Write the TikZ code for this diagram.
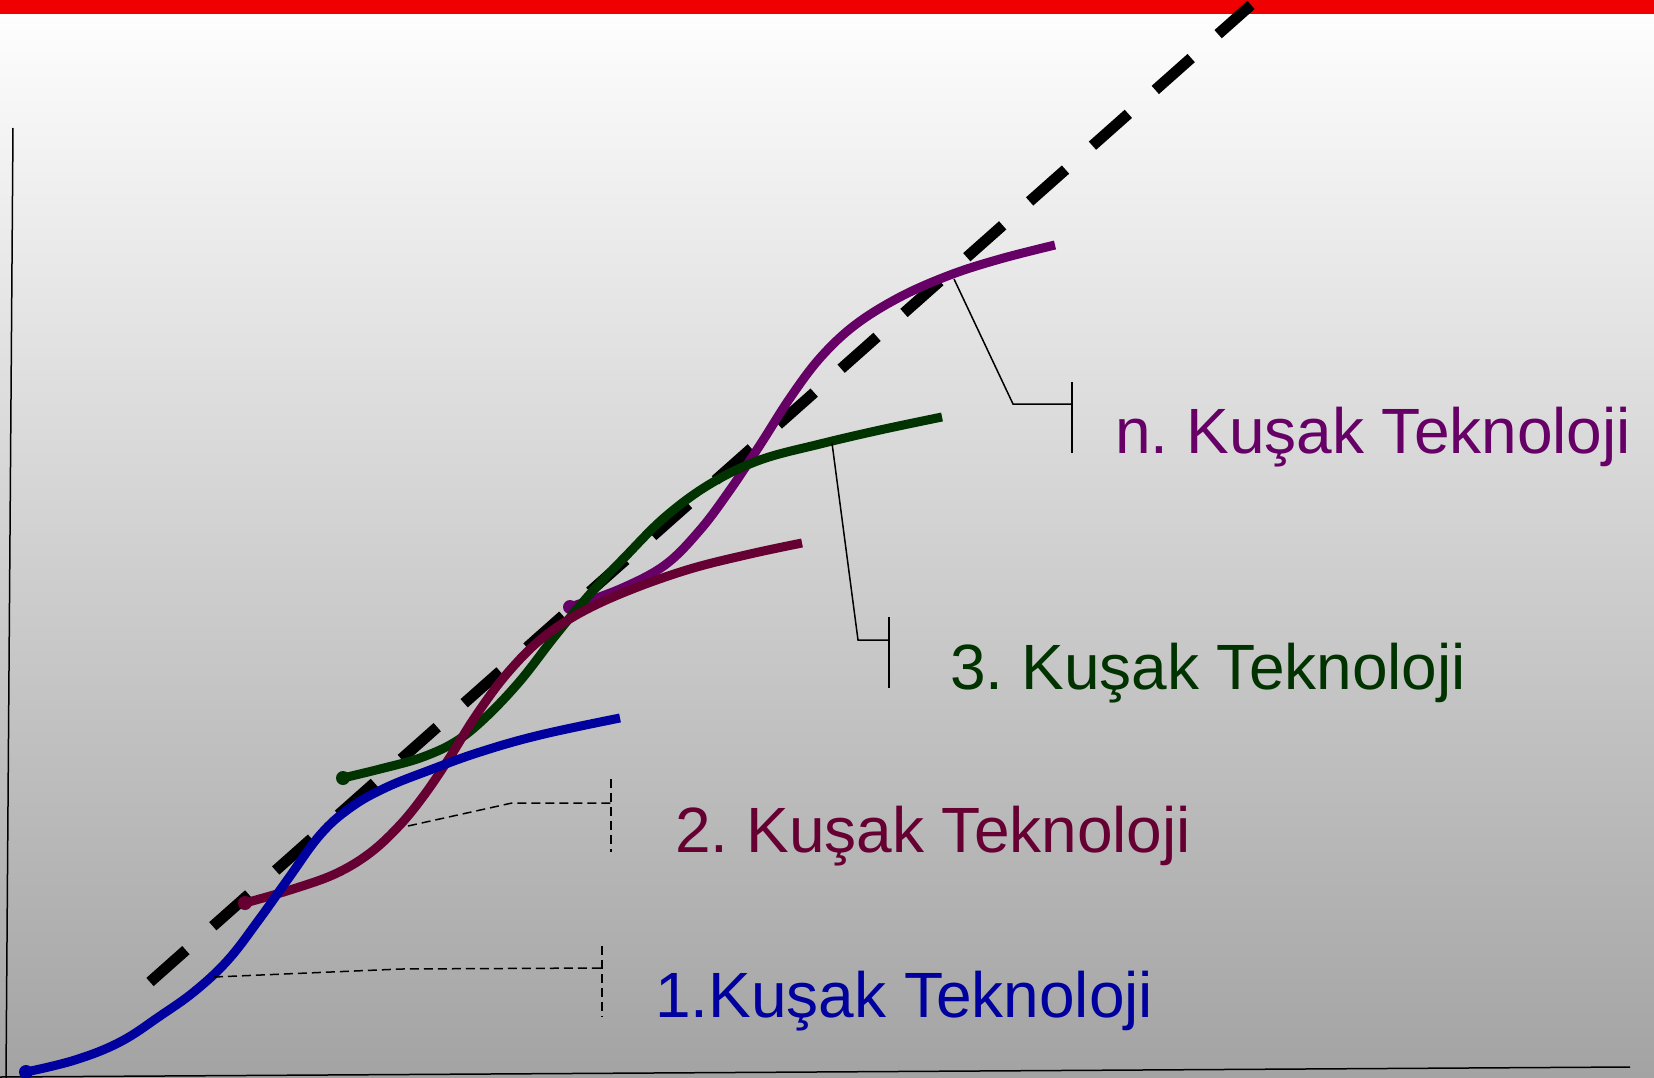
\documentclass[tikz,border=0pt]{standalone}
\usepackage{fontspec}
\setmainfont{Liberation Sans}
\frenchspacing
\definecolor{cblue}{RGB}{0,0,158}
\definecolor{cmaroon}{RGB}{102,0,51}
\definecolor{cgreen}{RGB}{0,51,0}
\definecolor{cpurple}{RGB}{102,0,102}
\definecolor{cred}{RGB}{240,0,0}
\definecolor{cbottom}{RGB}{163,163,163}
\begin{document}
\begin{tikzpicture}[x=1pt,y=-1pt,
  curve/.style={line width=9pt, line join=round},
  trend/.style={line width=11pt, dash pattern=on 48pt off 36pt, black},
  axis/.style={line width=1.5pt, black},
  leader/.style={line width=1.5pt, black},
  dleader/.style={line width=1.5pt, black, dash pattern=on 9pt off 5pt},
  tick/.style={line width=2.7pt, black},
  lbl/.style={inner sep=0pt, anchor=base west, font=\fontsize{64}{70}\selectfont}]
\useasboundingbox (0,0) rectangle (1654,1078);
\clip (0,0) rectangle (1654,1078);
% background
\shade[top color=white, bottom color=cbottom] (0,0) rectangle (1654,1078);
\fill[cred] (0,0) rectangle (1654,14);
% axes
\coordinate (ytop) at (13,128);
\coordinate (ybot) at (6,1078);
\coordinate (xl) at (0,1077);
\coordinate (xr) at (1630,1067);
\draw[axis] (ytop) -- (ybot);
\draw[axis] (xl) -- (xr);
% trend line
\coordinate (t0) at (150,982);
\coordinate (t1) at (1251,5);
\draw[trend] (t0) -- (t1);
% n. generation (purple)
\draw[curve, cpurple] plot[smooth, tension=0.6] coordinates {(570,607) (620,589) (665,565) (700,530) (730,490) (760,445) (790,398) (820,358) (855,325) (900,297) (950,275) (1000,259) (1055,245)};
\fill[cpurple] (570,607) circle (7);
% 3. generation (green)
\draw[curve, cgreen] plot[smooth, tension=0.6] coordinates {(343,778) (380,769) (420,758) (455,742) (485,718) (520,681) (555,636) (590,594) (625,557) (665,517) (710,484) (760,460) (820,444) (880,430) (942,417)};
\fill[cgreen] (343,778) circle (7);
% 2. generation (maroon)
\draw[curve, cmaroon] plot[smooth, tension=0.6] coordinates {(245,903) (290,890) (335,874) (370,853) (400,825) (425,794) (450,757) (475,717) (505,676) (540,640) (580,613) (630,590) (690,569) (750,554) (802,543)};
\fill[cmaroon] (245,903) circle (7);
% 1. generation (blue)
\draw[curve, cblue] plot[smooth, tension=0.65] coordinates {(26,1072) (75,1060) (120,1042) (160,1016) (195,991) (228,960) (258,921) (288,879) (320,835) (350,808) (385,788) (430,770) (480,752) (540,735) (620,718)};
\fill[cblue] (26,1072) circle (7);
% leaders
\coordinate (a1) at (214,977);
\coordinate (b1) at (401,969);
\coordinate (c1) at (602,968);
\coordinate (d1) at (602,946);
\coordinate (e1) at (602,1017);
\draw[dleader] (a1) -- (b1) -- (c1);
\draw[dleader] (d1) -- (e1);
\coordinate (a2) at (408,826);
\coordinate (b2) at (512,803);
\coordinate (c2) at (611,803);
\coordinate (d2) at (611,779);
\coordinate (e2) at (611,852);
\draw[dleader] (a2) -- (b2) -- (c2);
\draw[dleader] (d2) -- (e2);
\coordinate (a3) at (832,443);
\coordinate (b3) at (858,640);
\coordinate (c3) at (889,640);
\coordinate (d3) at (889,617);
\coordinate (e3) at (889,688);
\draw[leader] (a3) -- (b3) -- (c3);
\draw[tick] (d3) -- (e3);
\coordinate (a4) at (954,279);
\coordinate (b4) at (1013,404);
\coordinate (c4) at (1072,404);
\coordinate (d4) at (1072,382);
\coordinate (e4) at (1072,453);
\draw[leader] (a4) -- (b4) -- (c4);
\draw[tick] (d4) -- (e4);
% labels
\node[lbl, text=cblue] (l1) at (655,1017) {1.Kuşak Teknoloji};
\node[lbl, text=cmaroon] (l2) at (675,852) {2. Kuşak Teknoloji};
\node[lbl, text=cgreen] (l3) at (950,689) {3. Kuşak Teknoloji};
\node[lbl, text=cpurple] (l4) at (1115,453) {n. Kuşak Teknoloji};
\end{tikzpicture}
\end{document}
